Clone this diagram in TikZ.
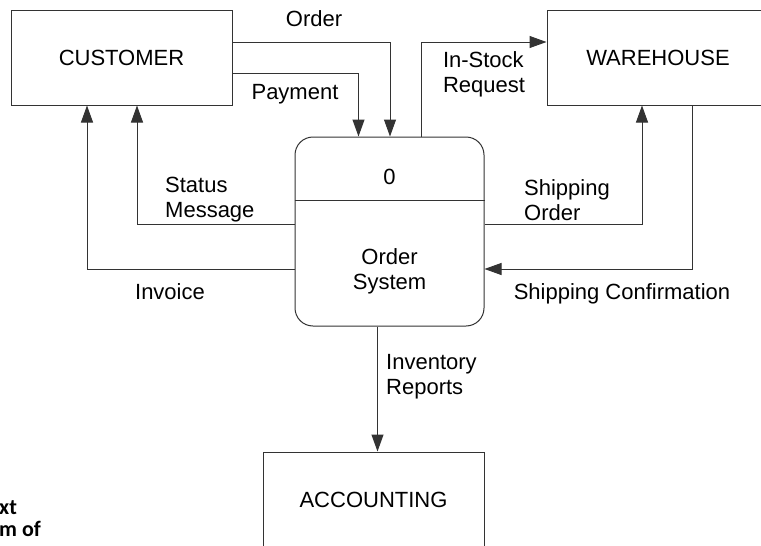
\documentclass[tikz,border=0pt]{standalone}
\usepackage{fontspec}
\setmainfont{Liberation Sans}
\newfontfamily\fragfont{Carlito}
\usetikzlibrary{arrows.meta}
\begin{document}
\begin{tikzpicture}[x=1pt,y=-1pt,
  every node/.style={font=\fontsize{22}{25}\selectfont, inner sep=0pt},
  entity/.style={draw=black!80, line width=1pt, minimum width=221pt, minimum height=95pt},
  process/.style={draw=black!80, line width=1pt, rounded corners=18pt, minimum width=189pt, minimum height=189pt},
  flow/.style={draw=black!80, line width=1pt, -{Triangle[length=17pt,width=12pt]}},
  lbl/.style={align=left},
  frag/.style={font=\fragfont\bfseries\fontsize{22}{24}\selectfont, anchor=base west}]
\useasboundingbox (0,0) rectangle (761,546);
\clip (0,0) rectangle (761,546);
\fill[white] (0,0) rectangle (761,546);
% entities
\node[entity] (cust) at (121.5,57.5) {CUSTOMER};
\node[entity, minimum width=222pt] (ware) at (658,57.5) {WAREHOUSE};
\node[entity] (acct) at (373.5,499.5) {ACCOUNTING};
% process
\node[process] (sys) at (389.5,231.5) {};
\draw[draw=black!80, line width=1pt] ([yshift=31.5pt]sys.west) -- ([yshift=31.5pt]sys.east);
\node (sysnum) at (389.5,177) {0};
\node[align=center] (sysname) at (389.5,271) {Order\\System};
% flows
\draw[flow] ([yshift=15.5pt]cust.east) -| ([xshift=0.5pt]sys.north);
\draw[flow] ([yshift=-15.5pt]cust.east) -| ([xshift=-31pt]sys.north);
\draw[flow] ([xshift=32pt]sys.north) |- ([yshift=15.5pt]ware.west);
\draw[flow] ([yshift=7.5pt]sys.east) -| ([xshift=-16pt]ware.south);
\draw[flow] ([xshift=34pt]ware.south) |- ([yshift=-37.5pt]sys.east);
\draw[flow] ([yshift=7.5pt]sys.west) -| ([xshift=15.5pt]cust.south);
\draw[flow] ([yshift=-37.5pt]sys.west) -| ([xshift=-34.5pt]cust.south);
\draw[flow] ([xshift=-12pt]sys.south) coordinate (inv) -- (inv |- acct.north);
% labels
\node (lorder) at (314,19) {Order};
\node (lpay) at (295,94) {Payment};
\node[lbl] (lstock) at (484,74) {In-Stock\\Request};
\node[lbl, anchor=west] (lshiporder) at (524,200) {Shipping\\Order};
\node (lshipconf) at (622,294) {Shipping Confirmation};
\node[lbl, anchor=west] (lstatus) at (165,200) {Status\\Message};
\node (linv) at (170,292) {Invoice};
\node[lbl, anchor=west] (linvrep) at (386,377) {Inventory\\Reports};
% cut-off caption fragments
\node[frag] (frag1) at (-1,514) {xt};
\node[frag] (frag2) at (-1,536) {m of};
\end{tikzpicture}
\end{document}
